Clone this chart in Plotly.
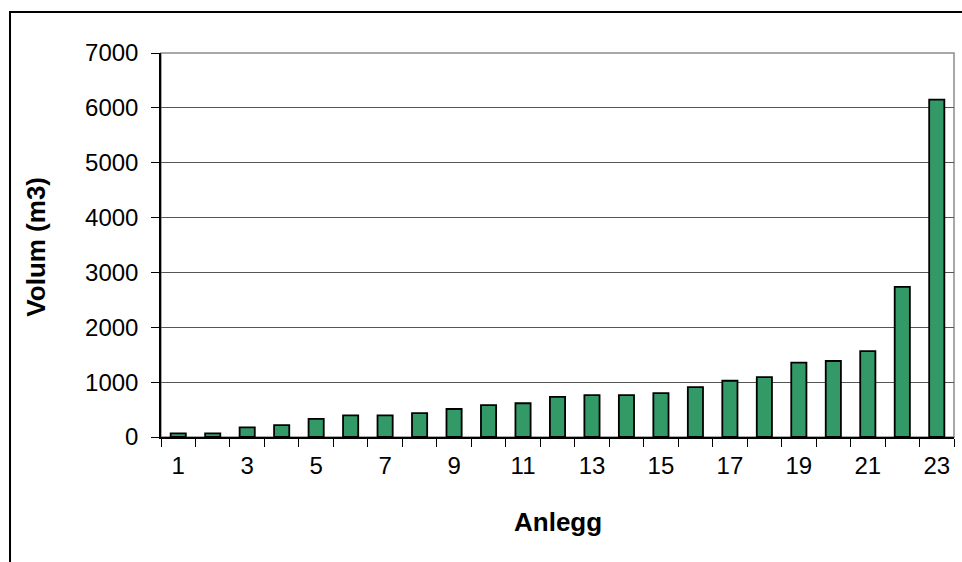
import plotly.graph_objects as go

# Volume per installation (anlegg), sorted ascending
anlegg = list(range(1, 24))
volum = [65, 65, 175, 215, 330, 395, 395, 435, 510, 580, 615, 730,
         765, 765, 800, 910, 1025, 1090, 1355, 1385, 1565, 2735, 6150]
x_labels = [1, 3, 5, 7, 9, 11, 13, 15, 17, 19, 21, 23]
y_ticks = [0, 1000, 2000, 3000, 4000, 5000, 6000, 7000]

FONT = "Arial, 'Liberation Sans', Helvetica, sans-serif"

fig = go.Figure(
    go.Bar(
        x=anlegg,
        y=volum,
        width=0.44,
        marker=dict(color="#339966", line=dict(color="#000000", width=1.8)),
    )
)

fig.update_layout(
    width=962,
    height=562,
    margin=dict(l=161, r=8, t=53, b=125),
    paper_bgcolor="white",
    plot_bgcolor="white",
    showlegend=False,
    font=dict(family=FONT, size=24, color="#000000"),
)

fig.update_xaxes(
    range=[0.5, 23.5],
    tickvals=x_labels,
    ticktext=[str(v) for v in x_labels],
    ticks="",
    showgrid=False,
    showline=True,
    linecolor="#000000",
    linewidth=1.5,
    zeroline=False,
    tickfont=dict(size=24),
    ticklabelstandoff=6,
    minor=dict(tick0=0.5, dtick=1, ticks="outside", ticklen=8,
               tickcolor="#000000", tickwidth=1.2, showgrid=False),
)

fig.update_yaxes(
    range=[0, 7000],
    tickvals=y_ticks,
    ticks="outside",
    ticklen=8,
    tickcolor="#000000",
    tickwidth=1.2,
    showgrid=True,
    gridcolor="#555555",
    gridwidth=1.2,
    showline=True,
    linecolor="#000000",
    linewidth=1.5,
    zeroline=False,
    tickfont=dict(size=24),
    ticklabelstandoff=8,
)

# Plot-area frame (grey top/right) and outer chart border
fig.add_shape(type="rect", xref="paper", yref="paper", x0=0, y0=0, x1=1, y1=1,
              line=dict(color="#8c8c8c", width=1.5), layer="below")
fig.add_shape(type="rect", xref="paper", yref="paper",
              x0=-0.1904, y0=-0.5, x1=1.3, y1=1.1068,
              line=dict(color="#000000", width=2))

# Axis titles
fig.add_annotation(text="<b>Anlegg</b>", xref="paper", yref="paper",
                   x=0.5, y=-0.221, xanchor="center", yanchor="middle",
                   showarrow=False, font=dict(size=26))
fig.add_annotation(text="<b>Volum (m3)</b>", xref="paper", yref="paper",
                   x=-0.158, y=0.495, xanchor="center", yanchor="middle",
                   textangle=-90, showarrow=False, font=dict(size=26))

fig.write_html("out.html")
